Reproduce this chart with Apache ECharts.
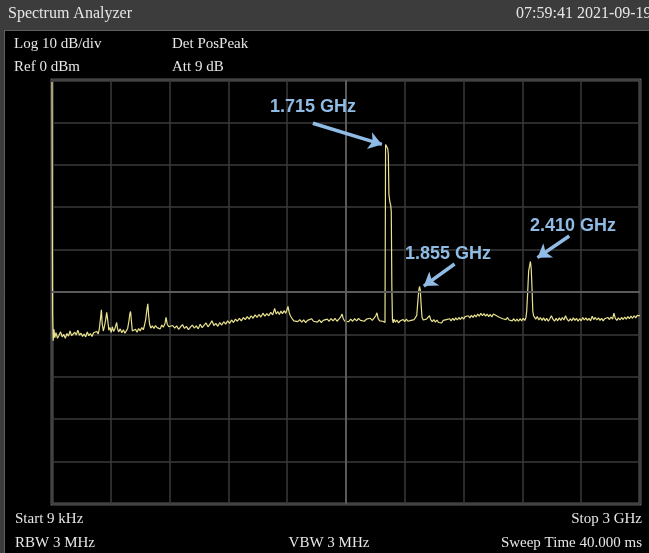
<!DOCTYPE html>
<html>
<head>
<meta charset="utf-8">
<script src="https://cdn.jsdelivr.net/npm/echarts@6/dist/echarts.min.js"></script>
<style>
html,body{margin:0;padding:0;background:#000;}
#chart{width:649px;height:553px;}
</style>
</head>
<body>
<div id="chart"></div>
<script>
// Frequency span (MHz) and reference level (dBm)
const freqStartMHz = 0.009;
const freqStopMHz = 3000;
const refLevel = 0;
const bottomLevel = -100;

// Measured trace: [frequency MHz, level dBm]
const traceStart = [
  [0.009,-0.5],[3,-55],[6,-61.5],[10,-58.8],[14,-60.8],[20,-59.6],[28,-60.9],[36,-60.2],[44,-59.4],[52,-60.6],
  [60,-60.0],[68,-60.9],[76,-59.8],[84,-60.4],[92,-59.2],[100,-60.3],[108,-60.7],[116,-59.5],[124,-60.1],[132,-59.0],
  [140,-60.2],[148,-59.7],[156,-60.5],[164,-59.9],[172,-60.6],[180,-59.4],[188,-60.3],[196,-59.8],[204,-60.5],[212,-59.6],
  [220,-60.0],[228,-59.3],[236,-59.9]
];
const traceLowSpurs = [
  [242,-58.5],[248,-56],[252,-54.2],[256,-57.5],[262,-59.2],[268,-58],[274,-56.5],[279,-54.8],[284,-56.5],[290,-59],
  [296,-58.4],[302,-59.5],[308,-58.2],[314,-59.3],[320,-58.8],[326,-57.8],[330,-57.2],[334,-58.6],[340,-59.4],[348,-58.7],
  [356,-59.6],[364,-58.9],[372,-59.7],[380,-59.1],[386,-58.6],[392,-57.0],[397,-55.2],[401,-54.6],[405,-56.8],[410,-59.2],
  [418,-59.6],[426,-58.8],[434,-59.5],[442,-58.6],[450,-59.2],[458,-58.4],[466,-58.9],[472,-57.8],[478,-56.5],[484,-54.2],
  [489,-52.8],[493,-55.5],[498,-57.6],[504,-58.5],[512,-58.0],[520,-58.6],[528,-57.9],[536,-58.4],[544,-58.1],[552,-58.7],
  [560,-57.8],[568,-58.3],[576,-57.5],[582,-56.0],[588,-57.6],[596,-58.2]
];
const traceMid = [
  [606,-58.6],[616,-57.9],[626,-58.5],[636,-58.0],[646,-58.8],[656,-58.2],[666,-57.7],[676,-58.6],[686,-58.1],[696,-58.9],
  [706,-58.3],[716,-57.8],[726,-58.5],[736,-58.0],[746,-58.7],[756,-57.6],[766,-58.4],[776,-58.0],[786,-57.3],[796,-58.2],
  [806,-57.6],[816,-56.8],[826,-57.9],[836,-57.4],[846,-58.1],[856,-57.2],[866,-57.8],[876,-57.0],[886,-57.6],[896,-56.8],
  [906,-57.4],[916,-56.6],[926,-57.2],[936,-56.4],[946,-56.9],[956,-56.2],[966,-56.8],[976,-56.0],[986,-56.5],[996,-55.8],
  [1006,-56.4],[1016,-55.6],[1026,-56.2],[1036,-55.4],[1046,-56.0],[1056,-55.3],[1066,-55.9],[1076,-55.0],[1086,-55.7],[1096,-55.1],
  [1106,-55.6],[1116,-54.8],[1126,-55.4],[1136,-53.9],[1144,-55.2],[1152,-54.6],[1160,-55.3],[1168,-54.5],[1176,-55.1],[1184,-54.4],
  [1192,-55.0],[1198,-54.3],[1204,-53.4],[1210,-54.8],[1216,-55.6],
  [1224,-56.2],[1234,-56.8],[1244,-56.4],[1254,-57.0],[1264,-56.5],[1274,-57.1],[1284,-56.6],[1294,-57.2],[1304,-56.7],[1314,-57.0],
  [1324,-56.3],[1334,-56.9],[1344,-56.5],[1354,-57.1],[1364,-56.6],[1374,-57.2],[1384,-56.7],[1394,-57.0],[1404,-56.4],[1414,-56.9],
  [1424,-56.3],[1434,-56.8],[1444,-56.2],[1454,-56.9],[1464,-56.4],[1474,-55.8],[1480,-55.2],[1486,-56.3],[1494,-56.9],[1504,-56.5],
  [1514,-57.0],[1524,-56.4],[1534,-56.9],[1544,-56.3],[1554,-56.8],[1564,-56.2],[1574,-56.7],[1584,-56.3],[1594,-56.9],[1604,-56.4],
  [1614,-56.8],[1624,-56.2],[1634,-56.7],[1644,-56.1],[1652,-55.6],[1658,-54.9],[1664,-56.3],[1672,-56.8],[1680,-56.4],[1688,-56.9],
  [1695,-57.0]
];
const tracePeak1715 = [
  [1699,-57.2],[1702,-15.2],[1706,-14.8],[1710,-15.4],[1713,-16.2],[1716,-17.5],[1719,-27],[1724,-28.8],[1728,-29.5],[1731,-31],
  [1734,-49],[1737,-56.5]
];
const traceAfter1715 = [
  [1741,-57.3],[1745,-56.4],[1752,-57.1],[1760,-56.6],[1768,-57.3],[1776,-56.8],[1784,-57.2],[1792,-56.5],[1800,-57.0],[1808,-56.4],
  [1816,-56.9],[1824,-57.3],[1832,-56.7],[1840,-57.1],[1848,-56.5],[1855,-56.2]
];
const tracePeak1855 = [
  [1861,-55.5],[1866,-52.5],[1871,-49.8],[1875,-48.7],[1879,-49.5],[1883,-52.8],[1888,-56.0]
];
const traceAfter1855 = [
  [1894,-56.6],[1902,-57.0],[1910,-56.4],[1918,-56.8],[1926,-55.6],[1932,-56.5],[1940,-57.0],[1948,-56.5],[1956,-57.1],[1964,-56.6],
  [1972,-57.2],[1980,-56.8],[1988,-57.3],[1996,-56.7],[2004,-57.1],[2012,-56.5],[2020,-56.9],[2028,-56.3],[2036,-56.8],[2044,-56.2],
  [2052,-56.7],[2060,-56.1],[2068,-56.6],[2076,-56.0],[2084,-56.5],[2092,-55.9],[2100,-56.4],[2108,-55.8],[2116,-56.2],[2124,-55.6],
  [2132,-56.1],[2140,-55.5],[2148,-56.0],[2156,-55.4],[2164,-55.9],[2172,-55.2],[2180,-55.7],[2188,-55.0],[2196,-55.6],[2204,-55.1],
  [2212,-55.7],[2220,-55.2],[2228,-55.8],[2236,-55.3],[2244,-55.9],[2252,-55.2],[2260,-54.9],[2268,-55.6],[2276,-55.3],[2284,-56.0],
  [2292,-55.6],[2300,-56.3],[2308,-55.9],[2316,-56.5],[2324,-56.0],[2332,-56.6],[2340,-56.2],[2348,-56.8],[2356,-56.3],[2364,-56.9],
  [2372,-56.4],[2380,-56.9],[2388,-56.3],[2396,-56.8],[2404,-56.2],[2412,-56.7],[2418,-56.0]
];
const tracePeak2410 = [
  [2422,-54.5],[2427,-50],[2432,-45],[2437,-43.8],[2441,-42.8],[2445,-44.5],[2449,-49],[2453,-54.5],[2457,-55.6]
];
const traceEnd = [
  [2462,-55.3],[2468,-56.4],[2476,-55.8],[2484,-56.6],[2492,-56.0],[2500,-56.7],[2508,-56.1],[2516,-56.8],[2524,-56.2],[2532,-56.9],
  [2540,-56.3],[2548,-55.6],[2556,-56.4],[2564,-56.9],[2572,-56.2],[2580,-56.8],[2588,-56.1],[2596,-56.7],[2604,-56.0],[2612,-56.6],
  [2620,-55.6],[2628,-56.4],[2636,-56.9],[2644,-56.3],[2652,-56.8],[2660,-56.1],[2668,-56.7],[2676,-56.2],[2684,-56.9],[2692,-56.3],
  [2700,-56.8],[2708,-56.0],[2716,-56.6],[2724,-56.1],[2732,-56.7],[2740,-56.2],[2748,-56.8],[2756,-55.7],[2764,-56.5],[2772,-56.0],
  [2780,-56.6],[2788,-56.1],[2796,-56.7],[2804,-56.2],[2812,-56.8],[2820,-56.3],[2828,-56.7],[2836,-56.0],[2844,-56.5],[2852,-55.9],
  [2860,-56.4],[2867,-55.0],[2874,-56.2],[2882,-56.7],[2890,-56.1],[2898,-56.6],[2906,-56.0],[2914,-56.5],[2922,-55.9],[2930,-56.4],
  [2938,-55.8],[2946,-56.3],[2954,-55.7],[2962,-56.2],[2970,-55.6],[2978,-56.1],[2986,-55.5],[2994,-55.9],[3000,-55.6]
];

// Annotations: label text, label anchor [MHz,dBm], arrow start, arrow end
const annoLabels = ['1.715 GHz','1.855 GHz','2.410 GHz'];
const annoLabelPos = [[1332,-6.3],[2020,-41.0],[2658,-34.4]];
const annoArrowFrom = [[1331,-10.2],[2054,-43.4],[2639,-36.8]];
const annoArrowTo = [[1683,-15.2],[1897,-48.6],[2477,-41.9]];

// Header / footer texts
const headerLeft = 'Spectrum Analyzer';
const headerRight = '07:59:41 2021-09-19';
const infoTop = [['Log 10 dB/div','Det PosPeak'],['Ref 0 dBm','Att 9 dB']];
const infoBottom = ['Start 9 kHz','Stop 3 GHz','RBW 3 MHz','VBW 3 MHz','Sweep Time 40.000 ms'];

const trace = [].concat(traceStart, traceLowSpurs, traceMid, tracePeak1715, traceAfter1715,
  tracePeak1855, traceAfter1855, tracePeak2410, traceEnd);

const chart = echarts.init(document.getElementById('chart'), null, {renderer:'canvas'});
const serif = '"Liberation Serif","Times New Roman",serif';
const txtColor = '#e6e6e6';
const annoColor = '#8fbbe4';

const markLineData = [
  {xAxis: 1500, symbol:'none', lineStyle:{color:'#5a5a5a', width:2, type:'solid'}},
  {yAxis: -50, symbol:'none', lineStyle:{color:'#5a5a5a', width:2, type:'solid'}}
];
for (let i = 0; i < annoArrowFrom.length; i++) {
  markLineData.push([
    {coord: annoArrowFrom[i], symbol:'none', lineStyle:{color:annoColor, width:3.5, type:'solid'}},
    {coord: annoArrowTo[i], symbol:'arrow', symbolSize:13}
  ]);
}

chart.setOption({
  backgroundColor: '#000',
  animation: false,
  grid: {left:52, top:80, width:588, height:424, show:true, borderColor:'#5c5c5c', borderWidth:3, backgroundColor:'#000'},
  xAxis: {
    type:'value', min:0, max:freqStopMHz, interval:300,
    axisLine:{show:false}, axisTick:{show:false}, axisLabel:{show:false},
    splitLine:{show:true, lineStyle:{color:'#3a3a3a', width:1.5}}
  },
  yAxis: {
    type:'value', min:bottomLevel, max:refLevel, interval:10,
    axisLine:{show:false}, axisTick:{show:false}, axisLabel:{show:false},
    splitLine:{show:true, lineStyle:{color:'#3a3a3a', width:1.5}}
  },
  series: [{
    type:'line',
    data: trace,
    showSymbol:false,
    symbol:'none',
    lineStyle:{color:'#e9e28e', width:1.2},
    clip:true,
    markLine:{
      silent:true,
      symbol:'none',
      label:{show:false},
      data: markLineData
    },
    markPoint:{
      silent:true,
      symbol:'circle',
      symbolSize:0,
      itemStyle:{color:'rgba(0,0,0,0)'},
      label:{show:true, position:'inside', color:annoColor, fontFamily:'"Liberation Sans",Arial,sans-serif',
             fontWeight:'bold', fontSize:18},
      data: annoLabels.map((t,i)=>({name:t, coord:annoLabelPos[i], label:{formatter:t}}))
    }
  }],
  graphic: [
    {type:'rect', shape:{x:0,y:0,width:649,height:30}, style:{fill:'#3c3c3c'}, z:-10},
    {type:'rect', shape:{x:0,y:30,width:5,height:523}, style:{fill:'#3c3c3c'}, z:-10},
    {type:'line', shape:{x1:5,y1:30.5,x2:649,y2:30.5}, style:{stroke:'#5e5e5e', lineWidth:1}},
    {type:'line', shape:{x1:4.5,y1:30,x2:4.5,y2:553}, style:{stroke:'#5e5e5e', lineWidth:1}},
    {type:'text', x:8, y:6, style:{text:headerLeft, fill:txtColor, font:'16px '+serif}},
    {type:'text', x:516, y:6, style:{text:headerRight, fill:txtColor, font:'16px '+serif}},
    {type:'text', x:14, y:37, style:{text:infoTop[0][0], fill:txtColor, font:'15px '+serif}},
    {type:'text', x:172, y:37, style:{text:infoTop[0][1], fill:txtColor, font:'15px '+serif}},
    {type:'text', x:14, y:60, style:{text:infoTop[1][0], fill:txtColor, font:'15px '+serif}},
    {type:'text', x:172, y:60, style:{text:infoTop[1][1], fill:txtColor, font:'15px '+serif}},
    {type:'text', x:15, y:512, style:{text:infoBottom[0], fill:txtColor, font:'15px '+serif}},
    {type:'text', x:642, y:512, style:{text:infoBottom[1], fill:txtColor, font:'15px '+serif, textAlign:'right'}},
    {type:'text', x:15, y:536, style:{text:infoBottom[2], fill:txtColor, font:'15px '+serif}},
    {type:'text', x:329, y:536, style:{text:infoBottom[3], fill:txtColor, font:'15px '+serif, textAlign:'center'}},
    {type:'text', x:642, y:536, style:{text:infoBottom[4], fill:txtColor, font:'15px '+serif, textAlign:'right'}}
  ]
});
</script>
</body>
</html>
